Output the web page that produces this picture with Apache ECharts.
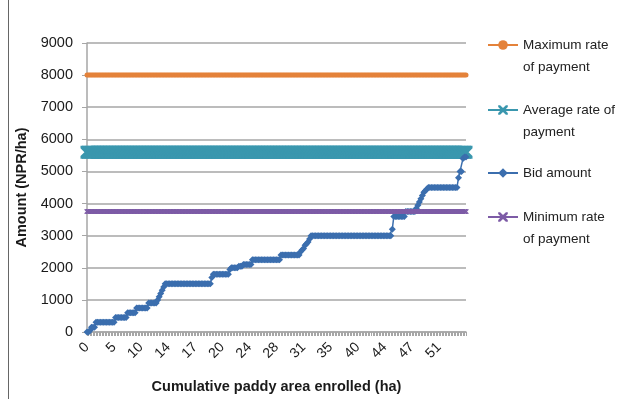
<!DOCTYPE html>
<html>
<head>
<meta charset="utf-8">
<script src="https://cdn.jsdelivr.net/npm/echarts@6/dist/echarts.min.js"></script>
<style>
  html, body { margin: 0; padding: 0; background: #fff; }
  #chart { width: 617px; height: 399px; }
</style>
</head>
<body>
<div id="chart"></div>
<script>
// bid amount as runs: [value, number of consecutive farmers]
const bidRuns = [
  [0, 2], [50, 1], [150, 3], [300, 13], [450, 8], [600, 6], [750, 8], [900, 6],
  [1000, 1], [1100, 1], [1200, 1], [1300, 1], [1400, 1], [1500, 31],
  [1700, 1], [1800, 11], [1950, 1], [2000, 5], [2050, 3], [2100, 6],
  [2250, 19], [2400, 13], [2500, 1], [2550, 1], [2600, 1], [2700, 1], [2750, 1],
  [2800, 1], [2900, 1], [3000, 54], [3200, 1], [3600, 8], [3750, 7],
  [3850, 1], [3950, 1], [4050, 1], [4150, 1], [4250, 1], [4350, 1], [4400, 1],
  [4450, 1], [4500, 20], [4800, 1], [5000, 2], [5400, 1], [5450, 2]
];
const maxRate = 8000;
const avgRate = 5600;
const minRate = 3750;
const tickLabels = ['0', '5', '10', '14', '17', '20', '24', '28', '31', '35', '40', '44', '47', '51'];
const labelEvery = 18;

const bid = [];
bidRuns.forEach(([v, n]) => { for (let k = 0; k < n; k++) bid.push(v); });
const categories = bid.map((_, i) => String(i));
const maxData = bid.map(() => maxRate);
const avgData = bid.map(() => avgRate);
const minData = bid.map(() => minRate);

const gridColor = '#a6a6a6';
const textColor = '#1a1a1a';
const xPath = 'path://M0,0 L2,0 5,3 8,0 10,0 10,2 7,5 10,8 10,10 8,10 5,7 2,10 0,10 0,8 3,5 0,2Z';

const chart = echarts.init(document.getElementById('chart'));

// two-line names get an empty first line so the icon sits on the first text line
function legendFor(name, top, twoLine) {
  return {
    left: 487,
    top: top,
    padding: 0,
    orient: 'vertical',
    itemWidth: 30,
    itemHeight: 12,
    data: [name],
    formatter: (n) => (twoLine ? ' \n' + n : n),
    textStyle: { fontFamily: 'Liberation Sans', fontSize: 13.5, color: '#222', lineHeight: 22 }
  };
}

chart.setOption({
  animation: false,
  backgroundColor: '#fff',
  grid: { left: 87, right: 151, top: 43, bottom: 63 },
  graphic: [{
    type: 'line',
    shape: { x1: 8.5, y1: 0, x2: 8.5, y2: 399 },
    style: { stroke: '#666', lineWidth: 1 }
  }],
  legend: [
    legendFor('Maximum rate\nof payment', 12, true),
    legendFor('Average rate of\npayment', 77, true),
    legendFor('Bid amount', 162, false),
    legendFor('Minimum rate\nof payment', 184, true)
  ],
  xAxis: {
    type: 'category',
    data: categories,
    boundaryGap: false,
    name: 'Cumulative paddy area enrolled (ha)',
    nameLocation: 'middle',
    nameGap: 47,
    nameTextStyle: { fontFamily: 'Liberation Sans', fontSize: 14.5, fontWeight: 'bold', color: textColor },
    axisLine: { lineStyle: { color: gridColor, width: 1.5 } },
    axisTick: { show: true, interval: 0, length: 4, lineStyle: { color: gridColor } },
    axisLabel: {
      interval: labelEvery - 1,
      rotate: 45,
      margin: 13,
      fontFamily: 'Liberation Sans',
      fontSize: 14,
      color: textColor,
      formatter: (v, i) => tickLabels[i / labelEvery] || ''
    },
    splitLine: { show: false }
  },
  yAxis: {
    type: 'value',
    min: 0,
    max: 9000,
    interval: 1000,
    name: 'Amount (NPR/ha)',
    nameLocation: 'middle',
    nameGap: 50,
    nameTextStyle: { fontFamily: 'Liberation Sans', fontSize: 14.5, fontWeight: 'bold', color: textColor },
    axisLine: { show: true, lineStyle: { color: gridColor, width: 1.5 } },
    axisTick: { show: true, length: 5, lineStyle: { color: gridColor } },
    axisLabel: {
      margin: 14, fontFamily: 'Liberation Sans', fontSize: 14.5, color: textColor,
      formatter: (v) => String(v)
    },
    splitLine: { lineStyle: { color: gridColor, width: 1.5 } }
  },
  series: [
    {
      name: 'Maximum rate\nof payment',
      type: 'line',
      data: maxData,
      showAllSymbol: true,
      symbol: 'circle',
      symbolSize: 5,
      itemStyle: { color: '#e4823a' },
      lineStyle: { color: '#e4823a', width: 1.5 }
    },
    {
      name: 'Average rate of\npayment',
      type: 'line',
      data: avgData,
      showAllSymbol: true,
      symbol: xPath,
      symbolSize: 13,
      itemStyle: { color: '#3a97ae' },
      lineStyle: { color: '#3a97ae', width: 5 }
    },
    {
      name: 'Bid amount',
      type: 'line',
      data: bid,
      showAllSymbol: true,
      symbol: 'diamond',
      symbolSize: 7,
      itemStyle: { color: '#3b6eae' },
      lineStyle: { color: '#3b6eae', width: 1.5 }
    },
    {
      name: 'Minimum rate\nof payment',
      type: 'line',
      data: minData,
      showAllSymbol: true,
      symbol: xPath,
      symbolSize: 5,
      itemStyle: { color: '#7d5ba6' },
      lineStyle: { color: '#7d5ba6', width: 1.5 }
    }
  ]
});
</script>
</body>
</html>
